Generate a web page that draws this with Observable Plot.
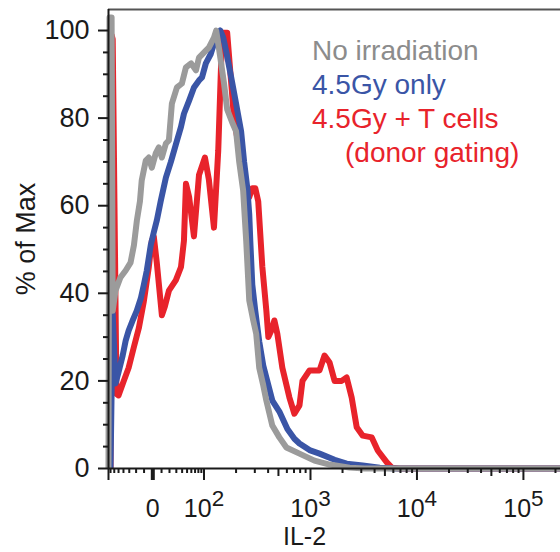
<!DOCTYPE html>
<html>
<head>
<meta charset="utf-8">
<script src="https://cdn.jsdelivr.net/npm/d3@7"></script>
<script src="https://cdn.jsdelivr.net/npm/@observablehq/plot@0.6"></script>
<style>
  html, body { margin: 0; padding: 0; background: #fff; overflow: hidden; }
  #wrap { position: relative; width: 560px; height: 552px; font-family: "Liberation Sans", Arial, sans-serif; }
  .legend { position: absolute; left: 312px; top: 34px; font-size: 28px; line-height: 34px; white-space: nowrap; }
  .legend div { height: 34px; }
  .xlabel { position: absolute; left: 283px; top: 524px; font-size: 25px; line-height: 24px; color: #1a1a1a; }
</style>
</head>
<body>
<div id="wrap"></div>
<script>
// ---- data (IL-2 intensity, % of Max) ----
const grayX = [-76, -73, -67, -64, -57, -46, -36, -28, -23, -19, -15, -12.8, -8, -4.5, -1.1, 3.4, 6.8, 10.4, 15.3, 19.2, 23.3, 31, 39.6, 47.6, 59.4, 72.6, 82, 104, 111, 124, 130, 138, 154, 165, 184, 200, 214, 233, 249, 266, 290, 309, 330, 360, 385, 438, 510, 594, 788, 1090, 1511, 2334, 3230, 223000];
const grayY = [0, 103, 103, 36, 40.6, 43.6, 45.2, 47, 51, 56.6, 61, 65.8, 70.3, 71, 68.7, 72, 73.3, 71, 74.2, 74.9, 83.3, 87, 87.9, 91.6, 92.5, 90.9, 93.8, 95.4, 96.1, 98.4, 100, 96, 88, 82, 79, 77, 70, 63.5, 52, 38.4, 33.8, 30.8, 23, 19, 15.5, 9.8, 7.1, 4.8, 3.4, 1.8, 0.9, 0.2, 0, 0];

const blueX = [-70, -64, -57, -50, -41.5, -36, -31, -24.8, -19.2, -14, -10.4, -6.8, -2.3, 1.1, 4.5, 9.2, 15.3, 21.9, 29.3, 37.9, 43.5, 54.6, 66.9, 82, 92.4, 104, 116, 124, 133, 142, 151, 161, 180, 200, 223, 238, 255, 266, 272, 284, 303, 330, 360, 385, 438, 510, 607, 706, 788, 979, 1216, 1684, 2186, 3095, 4477, 6200, 223000];
const blueY = [0, 35.4, 19.4, 22, 25.8, 29.2, 31.5, 33.8, 36, 38.8, 41.8, 45.2, 51, 53.9, 56.6, 61.2, 66.4, 70, 74, 78, 81, 84, 87, 88.6, 89.3, 92.5, 94.7, 97, 98.9, 100, 98.5, 95.4, 89.3, 83.3, 77, 70, 64, 58, 52, 42, 36, 29, 23.5, 20.8, 15.5, 13, 9, 6.8, 5.7, 4.2, 3.4, 2, 1.1, 0.7, 0.2, 0, 0];

const redX = [-70, -67, -64, -54.6, -50, -39.5, -31, -23.3, -16.5, -10.4, -4.5, -1.1, 1.1, 4.5, 10.4, 14, 19.2, 29.3, 37.9, 43.5, 47.6, 54.6, 66.9, 82, 102, 111, 124, 136, 145, 151, 165, 176, 192, 214, 238, 249, 266, 284, 303, 323, 353, 385, 402, 429, 458, 488, 544, 634, 706, 788, 841, 979, 1216, 1355, 1511, 1684, 1961, 2186, 2437, 2717, 3095, 3763, 4286, 5212, 5808, 6911, 223000];
const redY = [0, 99, 98, 17, 16.7, 20, 23, 27.6, 32, 38, 46, 52, 53, 47, 35, 37, 40.6, 43, 46, 52, 65, 62, 53, 67, 71, 66, 55, 72.6, 93, 99.5, 99.5, 91, 79.5, 73, 64, 61, 62, 64, 64, 61, 46, 36, 30, 31.5, 33.8, 30.8, 23, 16.2, 12.5, 14.4, 20, 22.4, 22.4, 25.8, 24.2, 20, 20, 20.8, 16.2, 9.4, 7.5, 7.1, 4.1, 1.4, 0.2, 0, 0];

const seriesNames = ["No irradiation", "4.5Gy only", "4.5Gy + T cells"];
const legendLines = ["No irradiation", "4.5Gy only", "4.5Gy + T cells", "(donor gating)"];
const xMajorTicks = [0, 100, 1000, 10000, 100000];
const xMajorLabels = ["0", "10^2", "10^3", "10^4", "10^5"];
const yMajorTicks = [0, 20, 40, 60, 80, 100];
const xDomain = [-76, 223000];
const yDomain = [0, 104.8];

// ---- biexponential-style display transform ----
const LIN_W = 30, LIN_K = 51 / Math.asinh(100 / 30), DEC = 106;
function biex(v) {
  if (Math.abs(v) <= 100) return LIN_K * Math.asinh(v / LIN_W);
  const s = Math.sign(v);
  return s * (51 + DEC * Math.log10(Math.abs(v) / 100));
}

// minor ticks
const xMinorTicks = [];
for (let k = 1; k <= 7; k++) xMinorTicks.push(-10 * k);
for (let k = 1; k <= 9; k++) xMinorTicks.push(10 * k);
for (const dec of [100, 1000, 10000, 100000]) for (let k = 2; k <= 9; k++) if (k !== 5 && dec * k < xDomain[1]) xMinorTicks.push(dec * k);
const xMidTicks = [500, 5000, 50000];
const yMinorTicks = d3.range(0, 105, 5).filter(v => v % 20 !== 0);

const colors = {"No irradiation": "#9b9b9b", "4.5Gy only": "#3a55a6", "4.5Gy + T cells": "#e8232b"};
const toRows = (xs, ys) => xs.map((v, i) => ({v, p: ys[i]}));
const rows = {
  "No irradiation": toRows(grayX, grayY),
  "4.5Gy only": toRows(blueX, blueY),
  "4.5Gy + T cells": toRows(redX, redY)
};
const labelByKey = new Map(xMajorTicks.map((t, i) => [Math.round(biex(t) * 1000), xMajorLabels[i]]));
const axisColor = "#1a1a1a";

const drawOrder = ["4.5Gy + T cells", "4.5Gy only", "No irradiation"];

const plot = Plot.plot({
  width: 560,
  height: 552,
  marginLeft: 108,
  marginRight: 0,
  marginTop: 9,
  marginBottom: 84,
  style: {fontFamily: "'Liberation Sans', Arial, sans-serif", background: "white", color: axisColor},
  x: {type: "linear", domain: xDomain.map(biex)},
  y: {domain: yDomain},
  marks: [
    ...drawOrder.map(name => Plot.line(rows[name], {
      x: d => biex(d.v), y: "p", stroke: colors[name], strokeWidth: 6, strokeLinejoin: "round", strokeLinecap: "butt"
    })),
    Plot.ruleY([yDomain[1]], {stroke: "#555", strokeWidth: 2}),
    Plot.ruleY([0], {stroke: axisColor, strokeWidth: 2}),
    Plot.ruleX([biex(xDomain[0])], {stroke: axisColor, strokeWidth: 2}),
    // y axis
    Plot.axisY({ticks: yMajorTicks, tickSize: 10, tickPadding: 9, strokeWidth: 2, fontSize: 27,
      label: "% of Max", labelAnchor: "center", labelOffset: 93, labelArrow: "none"}),
    Plot.axisY({ticks: yMinorTicks, tickSize: 5, strokeWidth: 2, tickFormat: () => "", label: null}),
    // x axis
    Plot.axisX({ticks: [xDomain[0], ...xMajorTicks].map(biex), tickSize: 12, tickPadding: 19, strokeWidth: 2, fontSize: 25,
      tickFormat: d => labelByKey.get(Math.round(d * 1000)) ?? "", label: null}),
    Plot.axisX({ticks: [biex(0)], tickSize: 12, strokeWidth: 4, tickFormat: () => "", label: null}),
    Plot.axisX({ticks: xMidTicks.map(biex), tickSize: 8, strokeWidth: 2, tickFormat: () => "", label: null}),
    Plot.axisX({ticks: xMinorTicks.map(biex), tickSize: 5, strokeWidth: 2, tickFormat: () => "", label: null})
  ]
});

// superscript exponents on x tick labels
plot.querySelectorAll('g[aria-label="x-axis tick label"] text').forEach(t => {
  const m = t.textContent.match(/^10\^(\d)$/);
  if (!m) return;
  t.textContent = "10";
  const ts = document.createElementNS("http://www.w3.org/2000/svg", "tspan");
  ts.setAttribute("dy", "-0.5em");
  ts.setAttribute("font-size", "0.9em");
  ts.textContent = m[1];
  t.appendChild(ts);
});

const wrap = document.getElementById("wrap");
wrap.appendChild(plot);

// legend
const legend = document.createElement("div");
legend.className = "legend";
const legendColors = [colors["No irradiation"], colors["4.5Gy only"], colors["4.5Gy + T cells"], colors["4.5Gy + T cells"]];
legendLines.forEach((txt, i) => {
  const d = document.createElement("div");
  d.textContent = txt;
  d.style.color = i === 0 ? "#8c8c8c" : legendColors[i];
  if (i === 3) d.style.paddingLeft = "33px";
  legend.appendChild(d);
});
wrap.appendChild(legend);

const xl = document.createElement("div");
xl.className = "xlabel";
xl.textContent = "IL-2";
wrap.appendChild(xl);
</script>
</body>
</html>
